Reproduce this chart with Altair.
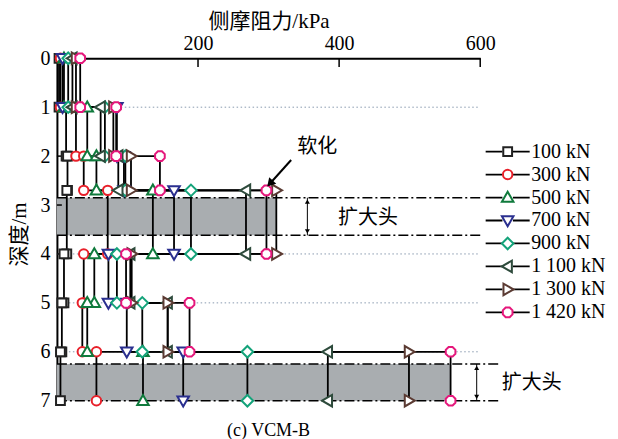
import altair as alt
import pandas as pd

# ---------------- data ----------------
names = ["100 kN", "300 kN", "500 kN", "700 kN", "900 kN", "1 100 kN", "1 300 kN", "1 420 kN"]
depth_breaks = [0, 1, 2, 2.7, 4, 5, 6, 7]
# side friction (kPa) per depth segment: 0-1, 1-2, 2-2.7, 2.7-4, 4-5, 5-6, 6-7
f_100 = [3, 13, 15, 14, 10, 7, 5]
f_300 = [5, 27, 38, 72, 38, 36, 56]
f_500 = [10, 43, 56, 136, 53, 43, 122]
f_700 = [8, 85, 95, 166, 73, 99, 179]
f_900 = [16, 68, 97, 190, 85, 121, 270]
f_1100 = [22, 62, 87, 268, 104, 157, 384]
f_1300 = [27, 80, 105, 311, 106, 157, 499]
f_1420 = [33, 84, 146, 297, 98, 188, 558]
series_vals = [f_100, f_300, f_500, f_700, f_900, f_1100, f_1300, f_1420]

colors = ["#222222", "#e8202a", "#0f7a3c", "#2a2f8f", "#14a37a", "#2e4b3c", "#5b3b33", "#e5177b"]
shapes = [
    "M-0.42,-0.42L0.42,-0.42L0.42,0.42L-0.42,0.42Z",
    "M0.45,0A0.45,0.45 0 1,1 -0.45,0A0.45,0.45 0 1,1 0.45,0Z",
    "M0,-0.55L0.55,0.4L-0.55,0.4Z",
    "M0,0.55L0.55,-0.4L-0.55,-0.4Z",
    "M0,-0.55L0.55,0L0,0.55L-0.55,0Z",
    "M-0.55,0L0.4,-0.55L0.4,0.55Z",
    "M0.55,0L-0.4,-0.55L-0.4,0.55Z",
    "M0.46,0.19L0.19,0.46L-0.19,0.46L-0.46,0.19L-0.46,-0.19L-0.19,-0.46L0.19,-0.46L0.46,-0.19Z",
]
legend_line_path = "M-2.1,0L-0.5,0M0.5,0L2.1,0"

x_ticks = [200, 400, 600]
y_ticks = [0, 1, 2, 3, 4, 5, 6, 7]
grid_depths = [1, 4, 5, 6]
head_tops = [2.85, 6.25]
head_bottoms = [3.62, 7.0]
head_rights = [311, 558]
head_line_ends = [600, 627]

SERIF = "Liberation Serif"
CJK = "Liberation Serif, Noto Sans CJK SC"

# ---------------- tables ----------------
rows = []
for s, vals in zip(names, series_vals):
    for i, v in enumerate(vals):
        rows.append(dict(series=s, sline=s + " ", friction=v, depth=depth_breaks[i], seq=2 * i))
        rows.append(dict(series=s, sline=s + " ", friction=v, depth=depth_breaks[i + 1], seq=2 * i + 1))
df = pd.DataFrame(rows)

heads = pd.DataFrame({"x0": 0, "x1": head_rights, "top": head_tops, "bottom": head_bottoms})
dd_rows = []
for t, b, e in zip(head_tops, head_bottoms, head_line_ends):
    dd_rows.append(dict(x0=0, x1=e, depth=t))
    dd_rows.append(dict(x0=0, x1=e, depth=b))
dashdot = pd.DataFrame(dd_rows)
grid = pd.DataFrame({"x0": 0, "x1": 600, "depth": grid_depths})
ytk = pd.DataFrame({"x0": 0, "x1": 7, "depth": y_ticks})
xtk = pd.DataFrame({"friction": x_ticks, "d0": 0, "d1": 0.18})

axis_x = alt.Axis(orient="top", values=x_ticks, title="侧摩阻力/kPa", titleFont=CJK, titleFontSize=21,
                  titleFontWeight="normal", titleColor="black", titlePadding=2, labelFont=SERIF,
                  labelFontSize=20, labelColor="black", labelPadding=5, labelFlush=False, ticks=False,
                  domainColor="black", domainWidth=2, grid=False)
axis_y = alt.Axis(values=y_ticks, format="d", title="深度/m", titleFont=CJK, titleFontSize=21,
                  titleFontWeight="normal", titleColor="black", titlePadding=10, titleY=176, labelFont=SERIF,
                  labelFontSize=20, labelColor="black", labelPadding=7, ticks=False,
                  domainColor="black", domainWidth=2, grid=False)
xs = alt.Scale(domain=[0, 600], nice=False, zero=True)
ys = alt.Scale(domain=[0, 7], nice=False, reverse=True)


def X(f):
    return alt.X(f + ":Q", scale=xs, axis=axis_x)


def Y(f):
    return alt.Y(f + ":Q", scale=ys, axis=axis_y)


leg = alt.Legend(orient="none", legendX=440, legendY=82, title=None, symbolSize=441, symbolStrokeWidth=2,
                 symbolFillColor="white", symbolOpacity=1, labelFont=SERIF, labelFontSize=20,
                 labelColor="black", labelOffset=12, rowPadding=1, padding=0)
lleg = alt.Legend(orient="none", legendX=440, legendY=82, title=None, symbolSize=441, symbolType=legend_line_path,
                  symbolStrokeWidth=1.8, symbolStrokeColor="black", labelFont=SERIF, labelFontSize=20,
                  labelOpacity=0, labelOffset=12, rowPadding=1, padding=0)

bands = alt.Chart(heads).mark_rect(color="#a9adb0", opacity=1).encode(
    x=X("x0"), x2="x1", y=Y("top"), y2="bottom")
grid_l = alt.Chart(grid).mark_rule(color="#8a9bb0", strokeDash=[1.5, 2.5], strokeWidth=1).encode(
    x=X("x0"), x2="x1", y=Y("depth"))
dd_l = alt.Chart(dashdot).mark_rule(color="black", strokeDash=[10, 3, 2, 3], strokeWidth=1.5).encode(
    x=X("x0"), x2="x1", y=Y("depth"))
ytick_l = alt.Chart(ytk).mark_rule(color="black", strokeWidth=1.5).encode(x=X("x0"), x2="x1", y=Y("depth"))
xtick_l = alt.Chart(xtk).mark_rule(color="black", strokeWidth=1.5).encode(x=X("friction"), y=Y("d0"), y2="d1")

lines = alt.Chart(df).mark_line(color="black", strokeWidth=1.8).encode(
    x=X("friction"), y=Y("depth"), order=alt.Order("seq:Q"),
    strokeDash=alt.StrokeDash("sline:N", scale=alt.Scale(domain=[n + " " for n in names], range=[[1, 0]] * 8),
                              legend=lleg))
points = alt.Chart(df).mark_point(filled=False, fill="white", size=441, strokeWidth=2, opacity=1).encode(
    x=X("friction"), y=Y("depth"),
    color=alt.Color("series:N", scale=alt.Scale(domain=names, range=colors), legend=leg),
    shape=alt.Shape("series:N", scale=alt.Scale(domain=names, range=shapes), legend=leg))

# annotations
soft_arrow = pd.DataFrame({"x0": [332], "x1": [304], "d0": [2.08], "d1": [2.53]})
soft_head = pd.DataFrame({"x0": [302], "d0": [2.56]})
soft_text = pd.DataFrame({"x0": [369], "d0": [1.82], "t": ["软化"]})
darrow = pd.DataFrame({"x0": [355, 595], "top": head_tops, "bottom": head_bottoms})
up_heads = pd.DataFrame({"x0": [355, 595], "d0": [t + 0.08 for t in head_tops]})
down_heads = pd.DataFrame({"x0": [355, 595], "d0": [b - 0.08 for b in head_bottoms]})
head_text = pd.DataFrame({"x0": [441, 673], "d0": [3.27, 6.63], "t": ["扩大头", "扩大头"]})

a1 = alt.Chart(soft_arrow).mark_rule(color="black", strokeWidth=2).encode(
    x=X("x0"), x2="x1", y=Y("d0"), y2="d1")
a2 = alt.Chart(soft_head).mark_point(shape="triangle-up", filled=True, color="black", size=90, angle=222,
                                     opacity=1).encode(x=X("x0"), y=Y("d0"))
a3 = alt.Chart(soft_text).mark_text(font=CJK, fontSize=20, color="black").encode(
    x=X("x0"), y=Y("d0"), text="t:N")
d1 = alt.Chart(darrow).mark_rule(color="black", strokeWidth=1).encode(x=X("x0"), y=Y("top"), y2="bottom")
d2 = alt.Chart(up_heads).mark_point(shape="triangle-up", filled=True, color="black", size=25, opacity=1).encode(
    x=X("x0"), y=Y("d0"))
d3 = alt.Chart(down_heads).mark_point(shape="triangle-down", filled=True, color="black", size=25, opacity=1).encode(
    x=X("x0"), y=Y("d0"))
d4 = alt.Chart(head_text).mark_text(font=CJK, fontSize=20, color="black").encode(
    x=X("x0"), y=Y("d0"), text="t:N")

chart = alt.layer(bands, grid_l, dd_l, ytick_l, xtick_l, lines, points, a1, a2, a3, d1, d2, d3, d4).properties(
    width=424, height=343,
    autosize=alt.AutoSizeParams(type="none"),
    padding={"left": 49, "top": 50, "right": 130, "bottom": 40},
    title=alt.TitleParams("(c) VCM-B", orient="bottom", font=SERIF, fontSize=18, fontWeight="normal",
                          color="black", offset=11),
).configure_view(stroke=None)

chart.save("out.html", embed_options={"renderer": "svg", "actions": False})
